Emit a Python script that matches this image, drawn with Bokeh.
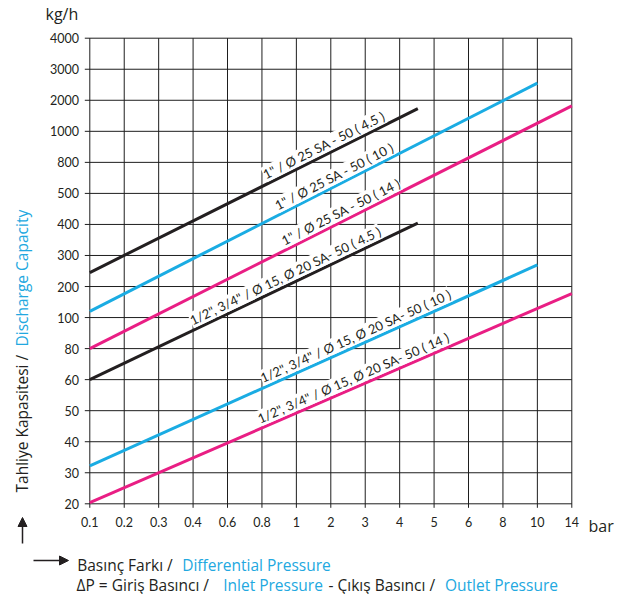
import numpy as np
from bokeh.plotting import figure
from bokeh.models import Range1d, Label, Arrow, NormalHead
from bokeh.core.properties import value
from bokeh.embed import file_html
from bokeh.resources import INLINE

# ---------------- data ----------------
x_ticks = [0.1, 0.2, 0.3, 0.4, 0.6, 0.8, 1, 2, 3, 4, 5, 6, 8, 10, 14]
x_tick_labels = ["0.1", "0.2", "0.3", "0.4", "0.6", "0.8", "1", "2", "3", "4", "5", "6", "8", "10", "14"]
y_ticks = [20, 30, 40, 50, 60, 80, 100, 200, 300, 400, 500, 800, 1000, 2000, 3000, 4000]
y_tick_labels = ["20", "30", "40", "50", "60", "80", "100", "200", "300", "400", "500", "800",
                 "1000", "2000", "3000", "4000"]

series_labels = [
    '1" / Ø 25 SA - 50 ( 4.5 )',
    '1" / Ø 25 SA - 50 ( 10 )',
    '1" / Ø 25 SA - 50 ( 14 )',
    '1/2", 3/4" / Ø 15, Ø 20 SA- 50 ( 4.5 )',
    '1/2", 3/4" / Ø 15, Ø 20 SA- 50 ( 10 )',
    '1/2", 3/4" / Ø 15, Ø 20 SA- 50 ( 14 )',
]
pressure_start = [0.1, 0.1, 0.1, 0.1, 0.1, 0.1]
pressure_end = [4.5, 10, 14, 4.5, 10, 14]
capacity_start = [240, 115, 80, 60, 32, 20.3]
capacity_end = [1660, 2500, 1765, 404, 265, 171]

# ---------------- styles / layout ----------------
BLACK = "#231F20"
CYAN = "#1AACE3"
MAGENTA = "#E91E84"
series_colors = [BLACK, CYAN, MAGENTA, BLACK, CYAN, MAGENTA]
label_anchor_idx = [6.80, 7.10, 7.29, 5.68, 7.72, 7.65]   # label centre along each line (x-index)
LABEL_LIFT = 10.5

W, H = 633, 594
GL, GR, GT, GB = 89.3, 571.3, 37.7, 503.3          # grid box in canvas pixels
NX, NY = len(x_ticks) - 1, len(y_ticks) - 1
PX, PY = (GR - GL) / NX, (GB - GT) / NY

FONT = "Lato"
CAP_FONT = "Open Sans"
CAP_SIZE = "15.5px"
TXT = "#231F20"
TXT_CYAN = "#22A8E0"
GRID = "#1E1E1E"


def x_idx(v):
    return np.interp(np.log(np.asarray(v, float)), np.log(x_ticks), np.arange(len(x_ticks)))


def y_idx(v):
    return np.interp(np.log(np.asarray(v, float)), np.log(y_ticks), np.arange(len(y_ticks)))


def dx(px):   # canvas pixel -> data x
    return (px - GL) / PX


def dy(py):   # canvas pixel -> data y
    return (GB - py) / PY


p = figure(width=W, height=H, output_backend="svg", toolbar_location=None,
           x_range=Range1d(dx(0), dx(W)), y_range=Range1d(dy(H), dy(0)),
           x_axis_type=None, y_axis_type=None,
           min_border_left=0, min_border_right=0, min_border_top=0, min_border_bottom=0)
p.grid.visible = False
p.outline_line_color = None
p.background_fill_color = "white"
p.border_fill_color = "white"

# grid + tick stubs
xi = np.arange(len(x_ticks), dtype=float)
yi = np.arange(len(y_ticks), dtype=float)
p.segment(x0=xi, y0=np.full_like(xi, dy(GB + 4)), x1=xi, y1=np.full_like(xi, NY),
          line_color=GRID, line_width=1)
p.segment(x0=np.full_like(yi, dx(GL - 5)), y0=yi, x1=np.full_like(yi, NX), y1=yi,
          line_color=GRID, line_width=1)

# tick labels
p.text(x=xi, y=np.full_like(xi, dy(521)), text=x_tick_labels, text_align="center",
       text_baseline="middle", text_font=value(FONT), text_font_size="12.5px", text_color=TXT)
p.text(x=np.full_like(yi, dx(78.5)), y=yi, text=y_tick_labels, text_align="right",
       text_baseline="middle", text_font=value(FONT), text_font_size="12.5px", text_color=TXT)

# series
for i in range(len(series_labels)):
    xs = x_idx([pressure_start[i], pressure_end[i]])
    ys = y_idx([capacity_start[i], capacity_end[i]])
    p.line(xs, ys, line_color=series_colors[i], line_width=3)
    ang = np.arctan2((ys[1] - ys[0]) * PY, (xs[1] - xs[0]) * PX)
    xa = label_anchor_idx[i]
    ya = float(np.interp(xa, xs, ys))
    p.add_layout(Label(x=xa, y=ya, y_offset=LABEL_LIFT, angle=float(ang), text=series_labels[i],
                       text_align="center", text_baseline="alphabetic",
                       text_font=FONT, text_font_size="13px", text_color=TXT, text_line_height=1.0,
                       background_fill_color="white", background_fill_alpha=1, padding=0))


def plabel(px, py, text, color=TXT, size=CAP_SIZE, angle=0.0, align="left", baseline="alphabetic",
           font=CAP_FONT):
    p.add_layout(Label(x=dx(px), y=dy(py), text=text, angle=angle,
                       text_font=font, text_font_size=size, text_color=color,
                       text_align=align, text_baseline=baseline, text_line_height=1.0))


# units
plabel(45, 13, "kg/h", size="16px")
plabel(588, 525, "bar", size="16px")

# y-axis title (rotated)
plabel(21, 492, "Tahliye Kapasitesi / ", angle=np.pi / 2, baseline="middle")
plabel(21, 346, "Discharge Capacity", color=TXT_CYAN, angle=np.pi / 2, baseline="middle")

# x caption
plabel(76.7, 564, "Basınç Farkı / ")
plabel(181.7, 564, "Differential Pressure", color=TXT_CYAN)
plabel(76, 584, "ΔP = Giriş Basıncı / ")
plabel(222.7, 584, "Inlet Pressure", color=TXT_CYAN)
plabel(328, 584, "- Çıkış Basıncı / ")
plabel(444.5, 584, "Outlet Pressure", color=TXT_CYAN)

# arrows
p.add_layout(Arrow(x_start=dx(33), y_start=dy(560), x_end=dx(68), y_end=dy(560),
                   line_width=1.5, line_color=BLACK,
                   end=NormalHead(size=9, fill_color=BLACK, line_color=BLACK)))
p.add_layout(Arrow(x_start=dx(22), y_start=dy(543), x_end=dx(22), y_end=dy(517),
                   line_width=1.5, line_color=BLACK,
                   end=NormalHead(size=9, fill_color=BLACK, line_color=BLACK)))

open("out.html", "w").write(file_html(p, INLINE))
